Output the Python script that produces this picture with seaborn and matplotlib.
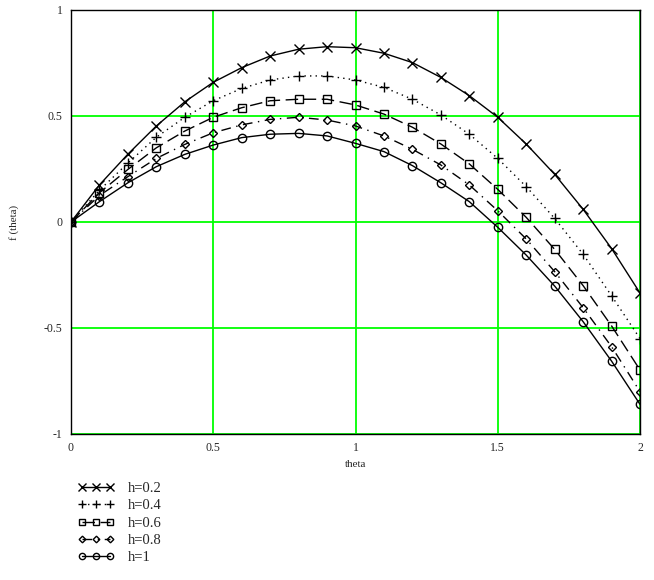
import numpy as np
import pandas as pd
import seaborn as sns
import matplotlib.pyplot as plt

# theta grid points (markers every 0.1)
theta = [0.0, 0.1, 0.2, 0.3, 0.4, 0.5, 0.6, 0.7, 0.8, 0.9, 1.0,
         1.1, 1.2, 1.3, 1.4, 1.5, 1.6, 1.7, 1.8, 1.9, 2.0]

# f(theta) for each h
f_h02 = [0.0, 0.175, 0.32, 0.453, 0.567, 0.659, 0.728, 0.783, 0.815, 0.827, 0.822,
         0.796, 0.752, 0.682, 0.596, 0.494, 0.368, 0.225, 0.06, -0.125, -0.335]
f_h04 = [0.0, 0.15, 0.278, 0.40, 0.494, 0.572, 0.63, 0.67, 0.689, 0.689, 0.67,
         0.635, 0.579, 0.505, 0.414, 0.30, 0.167, 0.017, -0.152, -0.348, -0.55]
f_h06 = [0.0, 0.138, 0.248, 0.35, 0.429, 0.494, 0.539, 0.572, 0.579, 0.579, 0.552,
         0.509, 0.447, 0.368, 0.274, 0.154, 0.022, -0.129, -0.30, -0.49, -0.698]
f_h08 = [0.0, 0.125, 0.214, 0.30, 0.366, 0.421, 0.458, 0.484, 0.494, 0.481, 0.453,
         0.406, 0.343, 0.269, 0.175, 0.053, -0.08, -0.234, -0.404, -0.588, -0.80]
f_h1 = [0.0, 0.096, 0.185, 0.261, 0.319, 0.363, 0.398, 0.414, 0.418, 0.406, 0.371,
        0.332, 0.266, 0.185, 0.096, -0.025, -0.156, -0.302, -0.47, -0.656, -0.86]

labels = ["h=0.2", "h=0.4", "h=0.6", "h=0.8", "h=1"]
series = [f_h02, f_h04, f_h06, f_h08, f_h1]

# Mathcad-like line/marker styles
styles = {
    "h=0.2": dict(marker="x", linestyle="-", ms=7),
    "h=0.4": dict(marker="+", linestyle=(0, (1, 3)), ms=7),
    "h=0.6": dict(marker="s", linestyle=(0, (9, 4)), ms=6),
    "h=0.8": dict(marker="D", linestyle=(0, (7, 4, 1, 4)), ms=4.5),
    "h=1": dict(marker="o", linestyle="-", ms=6),
}

sns.set_style("white")
plt.rcParams["font.family"] = ["Liberation Serif", "DejaVu Serif"]

fig = plt.figure(figsize=(6.54, 5.8), dpi=100)
ax = fig.add_axes([71 / 654, 1 - 434 / 580, 569 / 654, 424 / 580])

for lab, vals in zip(labels, series):
    st = styles[lab]
    sns.lineplot(x=theta, y=vals, ax=ax, color="black", linewidth=1.0,
                 marker=st["marker"], linestyle=st["linestyle"], markersize=st["ms"],
                 markerfacecolor="none", markeredgecolor="black",
                 markeredgewidth=1.0, label=lab, legend=False)

ax.set_xlim(0, 2)
ax.set_ylim(-1, 1)
ax.set_xticks([0, 0.5, 1, 1.5, 2])
ax.set_xticklabels(["0", "0.5", "1", "1.5", "2"])
ax.set_yticks([-1, -0.5, 0, 0.5, 1])
ax.set_yticklabels(["-1", "-0.5", "0", "0.5", "1"])
ax.tick_params(labelsize=8.5, length=0, pad=6)
ax.grid(True, color="#00ff00", linewidth=1.3)
ax.set_axisbelow(True)
for sp in ax.spines.values():
    sp.set_color("black")
    sp.set_linewidth(1.0)

ax.set_xlabel("theta", fontsize=8, labelpad=4)
ax.set_ylabel("f (theta)", fontsize=8, labelpad=18)

handles, hl = ax.get_legend_handles_labels()
fig.legend(handles, hl, loc="upper left", bbox_to_anchor=(72 / 654, 1 - 476 / 580),
           frameon=False, fontsize=10.5, numpoints=3, handlelength=2.5,
           markerscale=0.75, labelspacing=0.28, handletextpad=0.9, borderaxespad=0)

fig.savefig("out.png", dpi=100)
